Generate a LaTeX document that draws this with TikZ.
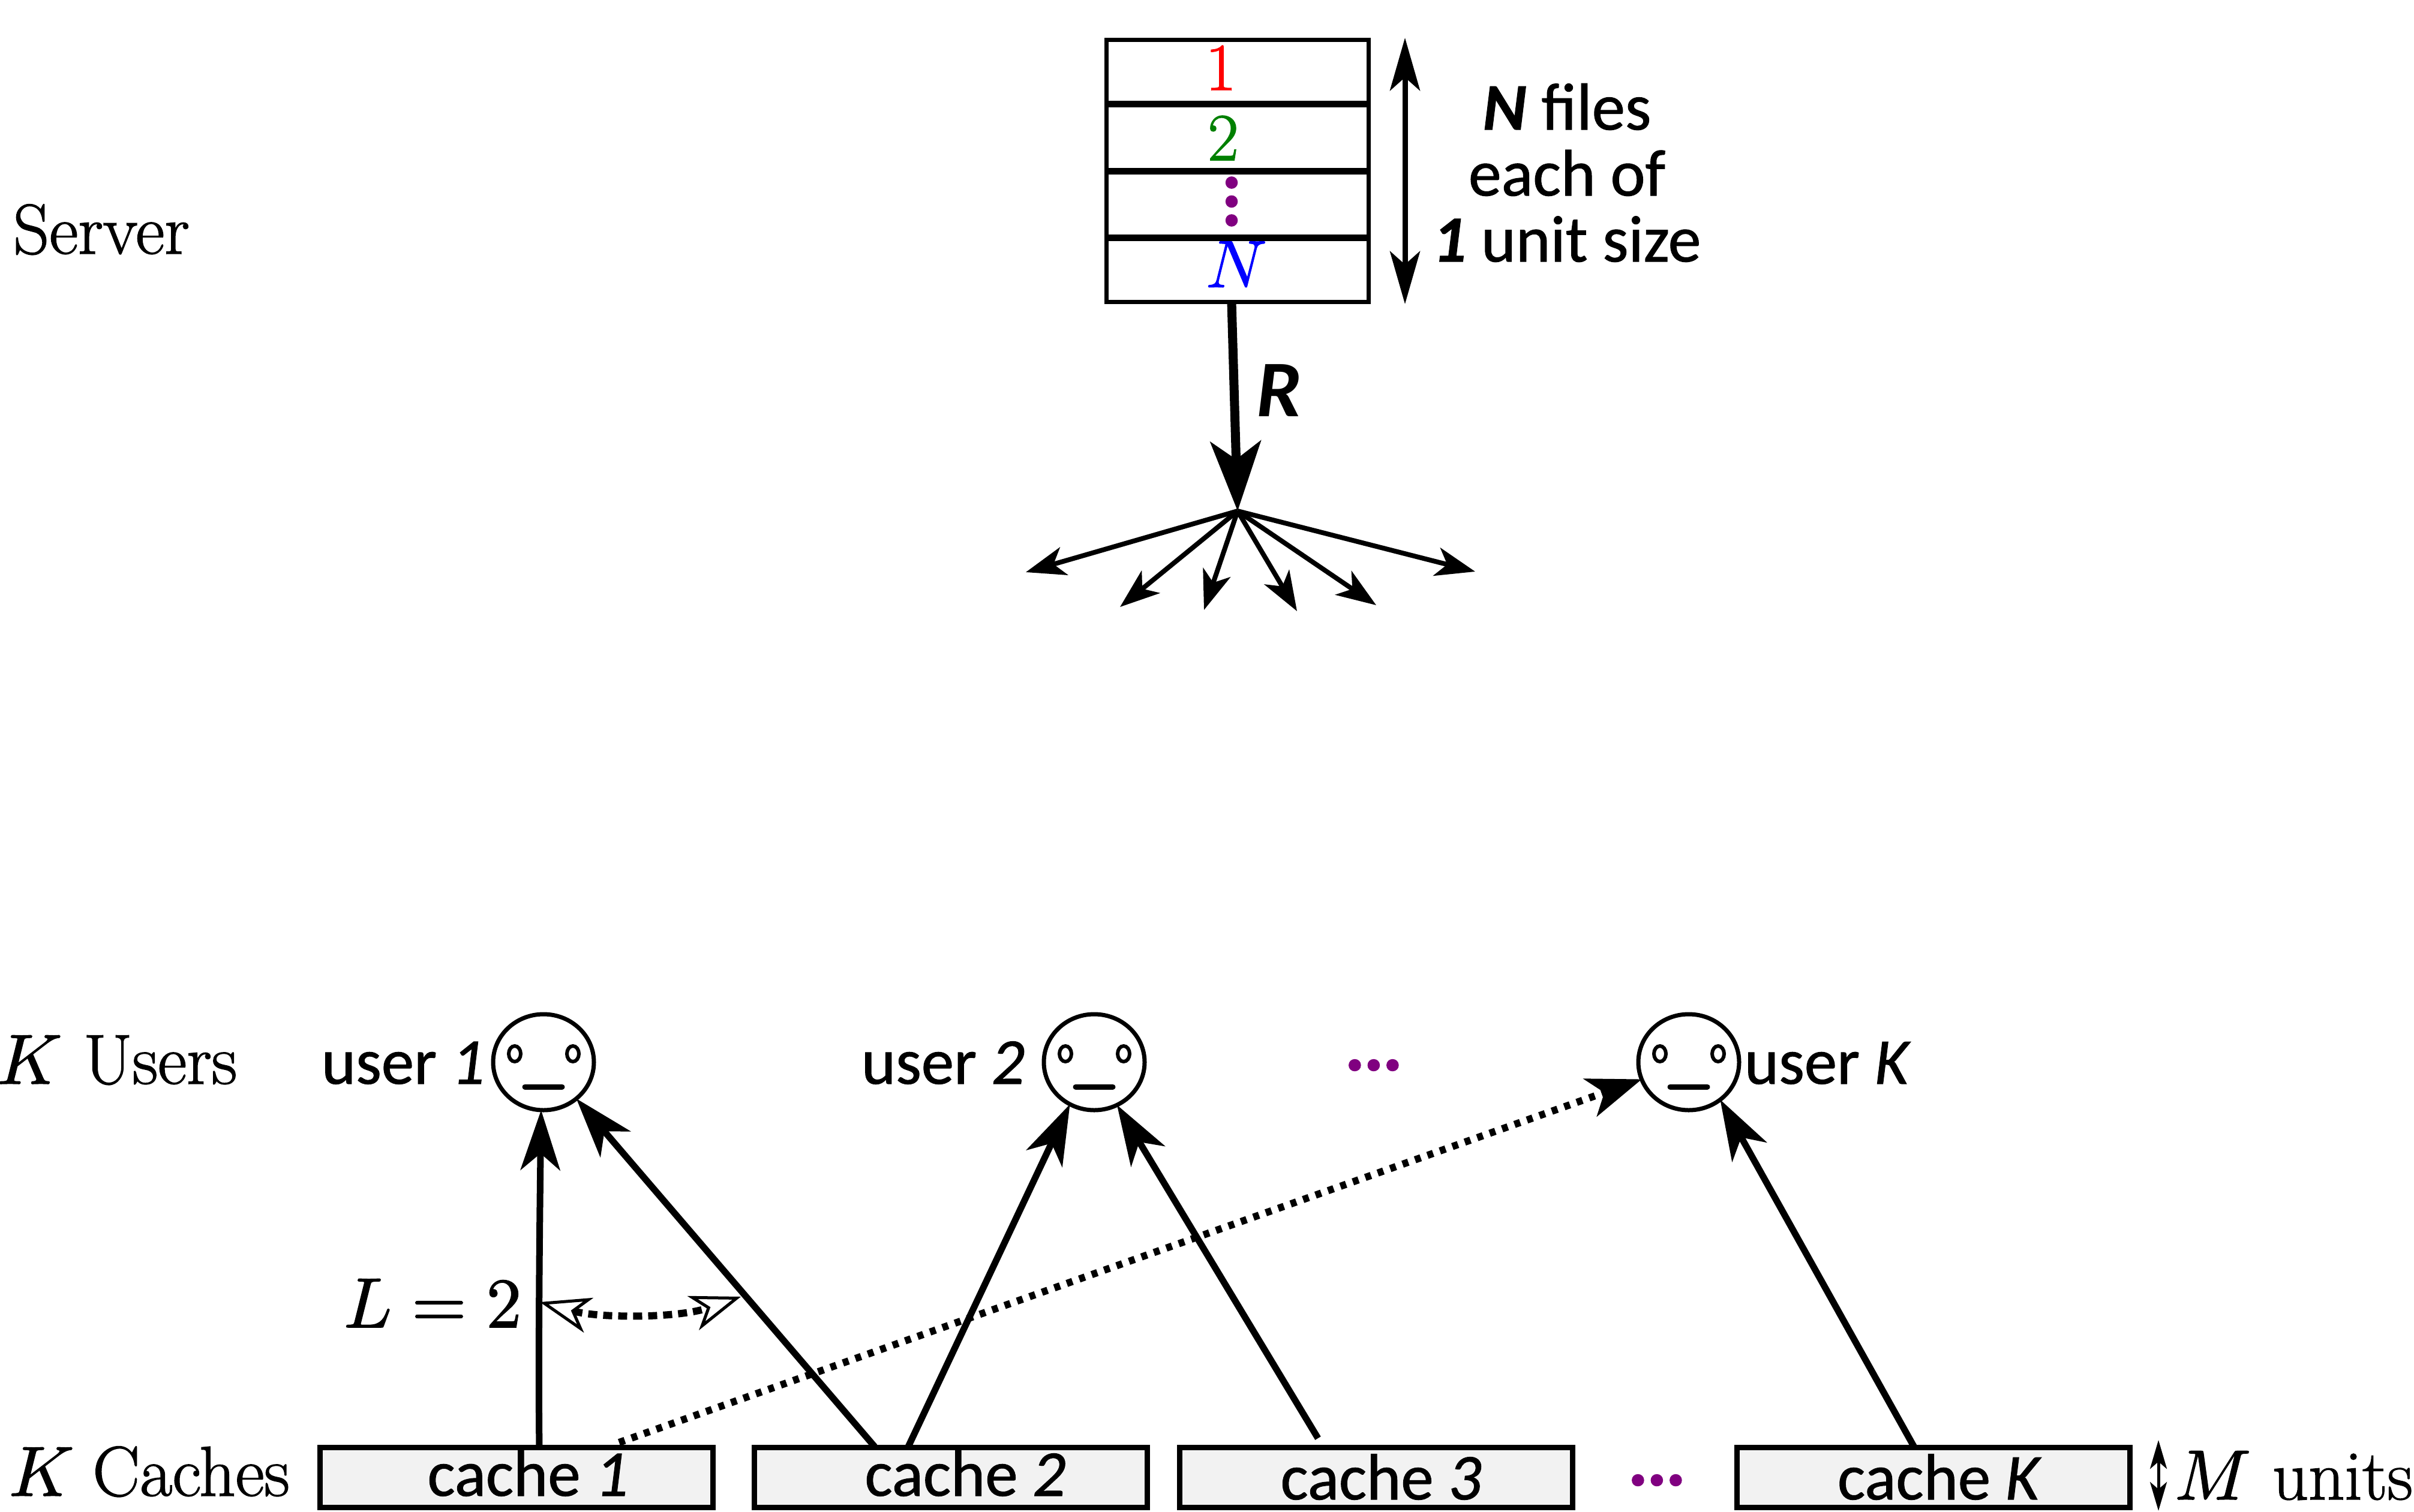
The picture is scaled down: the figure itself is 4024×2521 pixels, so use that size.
\documentclass[tikz,border=0pt]{standalone}
\usepackage{fontspec}
\newfontfamily\calib{Carlito}
\DeclareFontFamily{OML}{cmm}{\skewchar\font=127 }
\DeclareFontShape{OML}{cmm}{m}{it}{<-> cmmi10}{}
\DeclareFontFamily{OT1}{cmr}{\hyphenchar\font=45 }
\DeclareFontShape{OT1}{cmr}{m}{n}{<-> cmr10}{}
\DeclareFontFamily{OMS}{cmsy}{\skewchar\font=48 }
\DeclareFontShape{OMS}{cmsy}{m}{n}{<-> cmsy10}{}
\DeclareFontFamily{OMX}{cmex}{}
\DeclareFontShape{OMX}{cmex}{m}{n}{<-> cmex10}{}
\usetikzlibrary{arrows.meta,shapes.geometric,calc}
\definecolor{dotpurple}{HTML}{800080}
\definecolor{filegreen}{HTML}{008000}
\definecolor{cachefill}{HTML}{F2F2F2}
\newcommand{\sz}[1]{\fontsize{#1}{#1}\selectfont}
\newcommand{\hvy}[2][1.5]{\special{pdf:code 2 Tr #1 w}#2\special{pdf:code 0 Tr}}
\tikzset{
  x=1pt,y=-1pt,
  serif/.style={inner sep=0pt,outer sep=0pt,anchor=base west,font=\sz{118}},
  sans/.style={inner sep=0pt,outer sep=0pt,anchor=base west,font=\sz{109}\calib},
  digit/.style={inner sep=0pt,outer sep=0pt,anchor=base,font=\sz{112}},
  cachebox/.style={draw=black,line width=9pt,fill=cachefill,minimum width=655pt,minimum height=100pt,inner sep=0pt,outer sep=0pt},
  cachetext/.style={inner sep=0pt,outer sep=0pt,anchor=base,font=\sz{109}\calib},
  facenode/.style={draw=black,line width=7pt,ellipse,minimum width=168pt,minimum height=160pt,inner sep=0pt,outer sep=0pt},
  link/.style={line width=11pt,-{Stealth[length=100pt,width=66pt,inset=28pt]}},
  fan/.style={line width=8pt,-{Stealth[length=66pt,width=48pt,inset=18pt]}},
  dotlink/.style={line width=12pt,dash pattern=on 10pt off 12pt,-{Stealth[length=92pt,width=68pt,inset=26pt,line width=0pt]}},
  moredots/.style={inner sep=0pt,outer sep=0pt,text=dotpurple,font=\sz{118}\calib\bfseries\itshape},
}
\begin{document}
\begin{tikzpicture}
\useasboundingbox (0,0) rectangle (4024,2521);
% server
\node[draw=black,line width=7pt,minimum width=437pt,minimum height=437pt,inner sep=0pt,outer sep=0pt] (server) at (2063,285) {};
\foreach \yy/\nm in {173/a,285/b,396/c}{
  \draw[line width=11pt] (server.west |- 0,\yy) -- (server.east |- 0,\yy);
}
\node[digit,text=red] (f1) at (2035,150) {\hvy{1}};
\node[digit,text=filegreen] (f2) at (2039,267) {\hvy{2}};
\node[moredots,rotate=-90] (fdots) at (2053,336) {\hvy[3]{\textup{...}}};
\node[digit,text=blue] (fN) at (2061,479) {\hvy[1]{$N$}};
\coordinate (dtop) at (2342,63);
\coordinate (dbot) at (2342,507);
\draw[line width=9pt,{Stealth[length=88pt,width=50pt,inset=22pt]}-{Stealth[length=88pt,width=50pt,inset=22pt]}] (dtop) -- (dbot);
\node[inner sep=0pt,outer sep=0pt,align=center,font=\sz{110}\calib,anchor=center] (nfiles) at (2612,288) {\fontsize{111}{112}\selectfont\hvy[1]{\textbf{\textit{N}} files\\ each of\\ \textbf{\textit{1}} unit size}};
\node[inner sep=0pt,outer sep=0pt,anchor=base,font=\sz{134}\calib\bfseries\itshape] (rate) at (2132,694) {R};
\node[serif] (serverlabel) at (22,423) {\hvy{Server}};
% broadcast
\coordinate (hub) at (2063,852);
\draw[line width=15pt,-{Stealth[length=116pt,width=84pt,inset=30pt]}] ([xshift=-10pt]server.south) -- (hub);
\coordinate (b1) at (1710,954);
\coordinate (b2) at (1867,1012);
\coordinate (b3) at (2007,1017);
\coordinate (b4) at (2162,1019);
\coordinate (b5) at (2294,1009);
\coordinate (b6) at (2459,953);
\foreach \t in {b1,b2,b3,b4,b5,b6}{ \draw[fan] (hub) -- (\t); }
% users
\node[facenode] (u1) at (906,1771) {};
\node[facenode] (u2) at (1824,1771) {};
\node[facenode] (uK) at (2815,1771) {};
\foreach \u in {u1,u2,uK}{
  \draw[line width=6pt] ($(\u.center)+(-48,-14)$) ellipse [x radius=10pt,y radius=13pt];
  \draw[line width=6pt] ($(\u.center)+(49,-14)$) ellipse [x radius=10pt,y radius=13pt];
  \draw[line width=9pt,line cap=round] ($(\u.center)+(-31,41)$) -- ($(\u.center)+(31,41)$);
}
\node[sans] (lu1) at (536,1807) {\hvy[1]{user \textit{1}}};
\node[sans] (lu2) at (1436,1807) {\hvy[1]{user \textit{2}}};
\node[sans] (luK) at (2908,1807) {\hvy[1]{user \textit{K}}};
\node[moredots] (dotsu) at (2292,1776) {\hvy[3]{...}};
\node[serif] (kusers) at (-5,1807) {\hvy{$K$\hspace{.3em}Users}};
% caches
\node[cachebox] (c1) at (861,2463) {};
\node[cachebox] (c2) at (1585,2463) {};
\node[cachebox] (c3) at (2294,2463) {};
\node[cachebox] (cK) at (3223,2463) {};
\node[cachetext] (lc1) at (880,2494) {\hvy[1]{cache \textit{1}}};
\node[cachetext] (lc2) at (1609,2494) {\hvy[1]{cache \textit{2}}};
\node[cachetext] (lc3) at (2302,2500) {\hvy[1]{cache \textit{3}}};
\node[cachetext] (lcK) at (3233,2500) {\hvy[1]{cache \textit{K}}};
\node[moredots] (dotsc) at (2764,2468) {\hvy[3]{...}};
\node[serif] (kcaches) at (15,2494) {\hvy{$K$\hspace{.26em}Caches}};
\node[serif] (lval) at (573,2213) {\hvy{$L=2$}};
\node[serif] (munits) at (3625,2500) {\hvy{$M$\hspace{.3em}units}};
\draw[line width=5pt,{Stealth[length=48pt,width=28pt,inset=12pt]}-{Stealth[length=48pt,width=28pt,inset=12pt]}] (3598,2401) coordinate (ma) -- (3598,2519) coordinate (mb);
% links
\draw[link] ([xshift=38pt]c1.north) .. controls ($(c1.north)+(36,-150)$) and ($(u1.south)+(-6,150)$) .. ([xshift=-4pt]u1.south);
\draw[link] ([xshift=-127pt,yshift=1pt]c2.north) -- (u1.-48);
\draw[link] ([xshift=-71pt,yshift=1pt]c2.north) -- (u2.-120);
\draw[link] ([xshift=-97pt,yshift=15pt]c3.north) -- (u2.-62);
\draw[link] ([xshift=-32pt]cK.north) -- (uK.-50);
\draw[dotlink] ([xshift=171pt,yshift=8pt]c1.north) -- (uK.200);
% L arrow
\coordinate (la) at (900,2171);
\coordinate (lb) at (1235,2162);
\draw[line width=12pt,dash pattern=on 15pt off 10pt,{Stealth[length=84pt,width=60pt,inset=24pt,fill=white,line width=5pt]}-{Stealth[length=84pt,width=60pt,inset=24pt,fill=white,line width=5pt]}] (la) .. controls (1000,2198) and (1130,2198) .. (lb);
\end{tikzpicture}
\end{document}
